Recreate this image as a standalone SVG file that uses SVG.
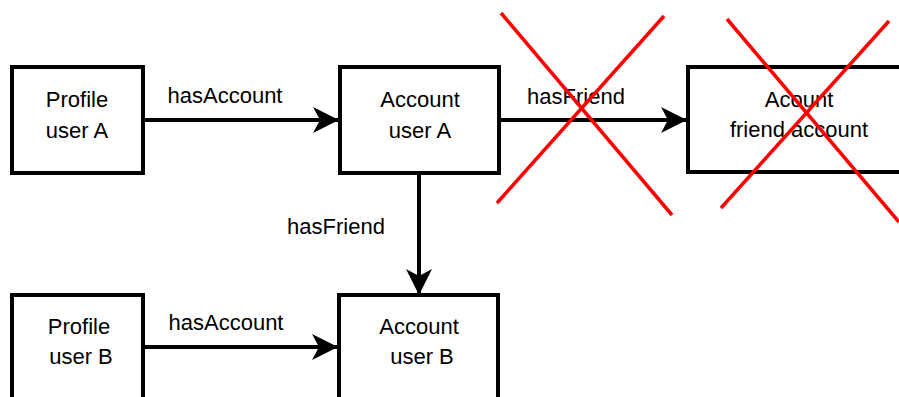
<svg xmlns="http://www.w3.org/2000/svg" width="899" height="397" viewBox="0 0 899 397">
  <defs>
    <marker id="arrow" viewBox="0 0 26 26" refX="25" refY="13" markerWidth="26" markerHeight="26" markerUnits="userSpaceOnUse" orient="auto">
      <path d="M0,0 L26,13 L0,26 L7,13 Z" fill="#000"/>
    </marker>
    <style>
      .box { fill: #fff; stroke: #000; stroke-width: 4; }
      .edge { fill: none; stroke: #000; stroke-width: 4; }
      .lbl { font-family: "Liberation Sans", Arial, sans-serif; font-size: 22px; fill: #000; text-anchor: middle; }
      .cross { stroke: #ff0000; stroke-width: 3.5; fill: none; }
    </style>
  </defs>
  <rect width="899" height="397" fill="#fff"/>

  <!-- connectors -->
  <g id="edges">
    <line class="edge" x1="143" y1="120" x2="338" y2="120" marker-end="url(#arrow)"/>
    <text class="lbl" x="225" y="103">hasAccount</text>
    <line class="edge" x1="500" y1="120" x2="686" y2="120" marker-end="url(#arrow)"/>
    <text class="lbl" x="576" y="104">hasFriend</text>
    <line class="edge" x1="419" y1="173" x2="419" y2="294" marker-end="url(#arrow)"/>
    <text class="lbl" x="336" y="234">hasFriend</text>
    <line class="edge" x1="143" y1="347" x2="337" y2="347" marker-end="url(#arrow)"/>
    <text class="lbl" x="226" y="330">hasAccount</text>
  </g>

  <g id="profileA">
    <rect class="box" x="12" y="67" width="131" height="106"/>
    <text class="lbl" x="77" y="107">Profile</text>
    <text class="lbl" x="77" y="138">user A</text>
  </g>

  <g id="accountA">
    <rect class="box" x="340" y="67" width="159" height="106"/>
    <text class="lbl" x="420" y="107">Account</text>
    <text class="lbl" x="420" y="138">user A</text>
  </g>

  <g id="friendAccount">
    <rect class="box" x="688" y="67" width="225" height="105"/>
    <text class="lbl" x="799" y="107">Acount</text>
    <text class="lbl" x="799" y="137">friend account</text>
  </g>

  <g id="profileB">
    <rect class="box" x="12" y="295" width="131" height="110"/>
    <text class="lbl" x="79" y="334">Profile</text>
    <text class="lbl" x="81" y="364">user B</text>
  </g>

  <g id="accountB">
    <rect class="box" x="339" y="295" width="159" height="110"/>
    <text class="lbl" x="419" y="334">Account</text>
    <text class="lbl" x="422" y="364">user B</text>
  </g>

  <!-- strike-through marks -->
  <g id="crosses">
    <line class="cross" x1="501" y1="13" x2="672" y2="215"/>
    <line class="cross" x1="664" y1="16" x2="497" y2="203"/>
    <line class="cross" x1="727" y1="19" x2="899" y2="222"/>
    <line class="cross" x1="889" y1="21" x2="721" y2="208"/>
  </g>
</svg>
